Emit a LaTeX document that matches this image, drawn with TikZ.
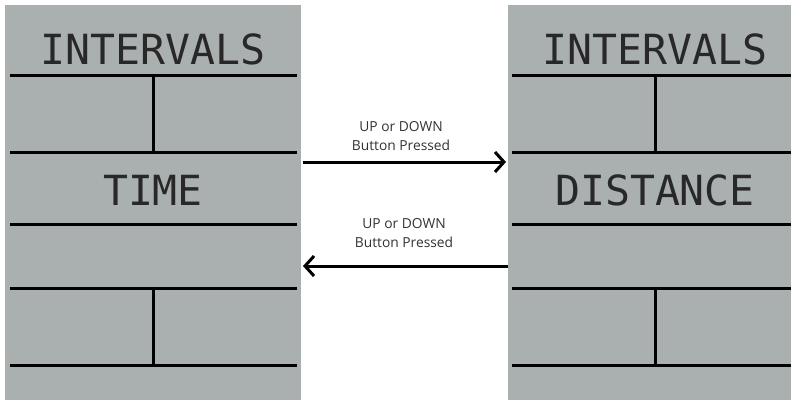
\documentclass[tikz,border=0pt]{standalone}
\usepackage{fontspec}
\setmainfont{Open Sans}
\newfontfamily\lcdfont{DejaVu Sans Mono}
\usetikzlibrary{arrows.meta}
\definecolor{panelgrey}{RGB}{170,176,176}
\definecolor{lcdtext}{RGB}{40,40,40}
\definecolor{labeltext}{RGB}{50,50,50}
\begin{document}
\begin{tikzpicture}[x=1pt,y=-1pt,
  panel/.style={fill=panelgrey, draw=none},
  divider/.style={line width=3pt, black},
  lcd/.style={font=\lcdfont\fontsize{41.5}{41.5}\selectfont, text=lcdtext, inner sep=0pt},
  lbl/.style={font=\fontsize{13.8}{19.5}\selectfont, text=labeltext, align=center, inner sep=0pt},
  flow/.style={line width=3pt, -{Straight Barb[length=9pt,width=20pt]}}]
\useasboundingbox (0,0) rectangle (791,400);
% left panel
\fill[panel] (5,5) rectangle (301,400);
\draw[divider] (10,75) -- (297,75);
\draw[divider] (10,152) -- (297,152);
\draw[divider] (10,224) -- (297,224);
\draw[divider] (10,288) -- (297,288);
\draw[divider] (10,365) -- (297,365);
\draw[divider] (153,75) -- (153,152);
\draw[divider] (153,288) -- (153,365);
\node[lcd] (titleL) at (153,49) {INTERVALS};
\node[lcd] (modeL) at (153,190) {TIME};
% right panel
\fill[panel] (508,5) rectangle (791,400);
\draw[divider] (512,75) -- (791,75);
\draw[divider] (512,152) -- (791,152);
\draw[divider] (512,224) -- (791,224);
\draw[divider] (512,288) -- (791,288);
\draw[divider] (512,365) -- (791,365);
\draw[divider] (655,75) -- (655,152);
\draw[divider] (655,288) -- (655,365);
\node[lcd] (titleR) at (655,49) {INTERVALS};
\node[lcd] (modeR) at (655,190) {DISTANCE};
% transitions
\coordinate (aL) at (303,162);
\coordinate (aR) at (506,162);
\coordinate (bR) at (508,266);
\coordinate (bL) at (303,266);
\draw[flow] (aL) -- (aR);
\draw[flow] (bR) -- (bL);
\node[lbl] (lblTop) at (401,136) {UP or DOWN\\Button Pressed};
\node[lbl] (lblBot) at (404,233) {UP or DOWN\\Button Pressed};
\end{tikzpicture}
\end{document}
